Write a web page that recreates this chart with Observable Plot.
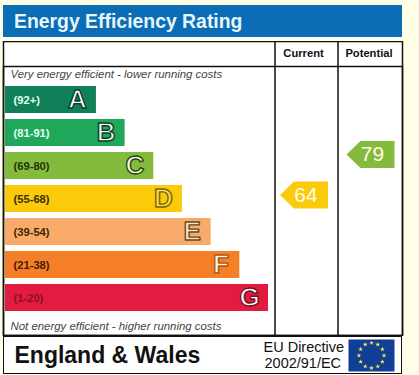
<!DOCTYPE html>
<html>
<head>
<meta charset="utf-8">
<script src="https://cdn.jsdelivr.net/npm/d3@7"></script>
<script src="https://cdn.jsdelivr.net/npm/@observablehq/plot@0.6"></script>
<style>
  html, body { margin: 0; padding: 0; }
  body { width: 419px; height: 375px; background: #fffee6; position: relative; overflow: hidden;
         font-family: "Liberation Sans", Arial, sans-serif; }
  #title { position: absolute; left: 3px; top: 5px; width: 388px; height: 32px; padding-left: 11px;
           background: #0b6db5; color: #e6f6fb; font-weight: bold; font-size: 19.4px; line-height: 33px; }
  #main { position: absolute; left: 0; top: 41px; }
  #foot { position: absolute; left: 0; top: 336px; }
  #footbox { position: absolute; left: 3px; top: 336px; width: 397px; height: 36px; background: #fff;
             border: 1.5px solid #111; }
</style>
</head>
<body>
<div id="title">Energy Efficiency Rating</div>
<div id="main"></div>
<div id="footbox"></div>
<div id="foot"></div>
<script>
// Data
const letters = ["A", "B", "C", "D", "E", "F", "G"];
const ranges = ["(92+)", "(81-91)", "(69-80)", "(55-68)", "(39-54)", "(21-38)", "(1-20)"];
const ranks = [1, 2, 3, 4, 5, 6, 7];
const lowerBounds = [92, 81, 69, 55, 39, 21, 1];
const barColors = ["#0f8058", "#1fa85c", "#85bb3c", "#fbca0a", "#f8ab68", "#f47f26", "#e21c40"];
const labelColors = ["#e6fff2", "#e6fff2", "#1f3310", "#3a3000", "#3f2408", "#3f2008", "#8a0f2c"];
const letterStrokes = ["#0b3f2c", "#0b3f2c", "#2a4a12", "#7a6400", "#6a4a22", "#a85a15", "#7a1028"];
const letterFills = ["#ffffff", "#e4f7ea", "#f4fbe8", "#fdd94a", "#fbe3cc", "#fff6ec", "#ffffff"];
const columns = ["Current", "Potential"];
const scores = [64, 79];
const topNote = "Very energy efficient - lower running costs";
const bottomNote = "Not energy efficient - higher running costs";
const region = "England & Wales";
const directive = ["EU Directive", "2002/91/EC"];
const starHours = [1, 2, 3, 4, 5, 6, 7, 8, 9, 10, 11, 12];

const bands = letters.map((letter, i) => ({
  letter, range: ranges[i], rank: ranks[i], color: barColors[i],
  label: labelColors[i], stroke: letterStrokes[i], letterFill: letterFills[i]
}));
const ratingOf = s => letters[lowerBounds.findIndex(b => s >= b)];

// Layout
const xDomain = [-2.17, 7], xRange = [5, 268];
const toX = d3.scaleLinear(xRange, xDomain);
const columnEdges = [274.5, 337.5].map(toX);
const columnCentres = [303, 368.5].map(toX);
const arrowCentres = [303.5, 370].map(toX);

const arrow = {
  draw(ctx) {
    const w = 24, h = 13.5, n = 14;
    ctx.moveTo(-w, 0);
    ctx.lineTo(-w + n, -h);
    ctx.lineTo(w, -h);
    ctx.lineTo(w, h);
    ctx.lineTo(-w + n, h);
    ctx.closePath();
  }
};

const arrowMarks = (i, dy) => {
  const d = [scores[i]];
  const fill = barColors[letters.indexOf(ratingOf(scores[i]))];
  return [
    Plot.dot(d, {x: () => arrowCentres[i], y: ratingOf, dy, symbol: arrow, fill, stroke: "none"}),
    Plot.text(d, {x: () => arrowCentres[i], y: ratingOf, dy, dx: 2, text: String, fill: "#fffbe8",
                  fontSize: 21, lineAnchor: "middle"})
  ];
};

const main = Plot.plot({
  width: 419, height: 295,
  marginTop: 25, marginBottom: 1, marginLeft: 3, marginRight: 17,
  style: {background: "transparent", fontFamily: "'Liberation Sans', Arial, sans-serif"},
  x: {domain: xDomain, range: xRange, axis: null},
  y: {type: "band", domain: letters, range: [36.9, 277.9], padding: 0.167, axis: null},
  marks: [
    Plot.frame({fill: "#fff", insetTop: -25, stroke: "none"}),
    Plot.rectX(bands, {x1: xDomain[0], x2: "rank", y: "letter", fill: "color"}),
    Plot.text(bands, {x: xDomain[0], dx: 8, y: "letter", text: "range", fill: "label", textAnchor: "start",
                      fontSize: 11.2, fontWeight: "bold", lineAnchor: "middle"}),
    Plot.text(bands, {x: "rank", dx: -19, y: "letter", text: "letter", fill: "letterFill", stroke: "stroke",
                      strokeWidth: 1.4, fontSize: 26, fontWeight: "bold", lineAnchor: "middle", paintOrder: "fill"}),
    Plot.text([topNote], {frameAnchor: "top-left", dx: 7, dy: 3, text: String, fill: "#444", fontSize: 11.4,
                          fontStyle: "italic", lineAnchor: "top"}),
    Plot.text([bottomNote], {frameAnchor: "bottom-left", dx: 7, dy: -6, text: String, fill: "#444", fontSize: 11.4,
                             fontStyle: "italic", lineAnchor: "bottom"}),
    ...arrowMarks(0, -4),
    ...arrowMarks(1, -11.5),
    Plot.text(columns, {x: (d, i) => columnCentres[i], frameAnchor: "top", dy: -13, text: String, fill: "#111",
                        fontSize: 11.2, fontWeight: "bold", lineAnchor: "middle"}),
    Plot.ruleX(columnEdges, {x: d => d, insetTop: -25, stroke: "#111", strokeWidth: 1.5}),
    Plot.frame({stroke: "#111", strokeWidth: 1.5}),
    Plot.frame({stroke: "#111", strokeWidth: 1.5, insetTop: -25})
  ]
});
document.getElementById("main").append(main);

const foot = Plot.plot({
  width: 419, height: 36,
  marginLeft: 348, marginRight: 25, marginTop: 3, marginBottom: 1,
  style: {background: "transparent", fontFamily: "'Liberation Sans', Arial, sans-serif"},
  x: {domain: [-1.83, 1.83], axis: null},
  y: {domain: [-1.27, 1.27], axis: null},
  marks: [
    Plot.frame({fill: "#123f96", stroke: "none"}),
    Plot.dot(starHours, {
      x: h => Math.sin(h * Math.PI / 6), y: h => Math.cos(h * Math.PI / 6),
      symbol: "star", r: 1.5, fill: "#ffe94a", stroke: "none"
    }),
    Plot.text([region], {frameAnchor: "left", dx: -334, text: String, fill: "#111", fontSize: 23,
                         fontWeight: "bold", textAnchor: "start", lineAnchor: "middle"}),
    Plot.text([directive[0]], {frameAnchor: "left", dx: -85, dy: -8, text: String, fill: "#111", fontSize: 14.5,
                               textAnchor: "start", lineAnchor: "middle"}),
    Plot.text([directive[1]], {frameAnchor: "left", dx: -84, dy: 8, text: String, fill: "#111", fontSize: 14.5,
                               textAnchor: "start", lineAnchor: "middle"})
  ]
});
document.getElementById("foot").append(foot);
</script>
</body>
</html>
